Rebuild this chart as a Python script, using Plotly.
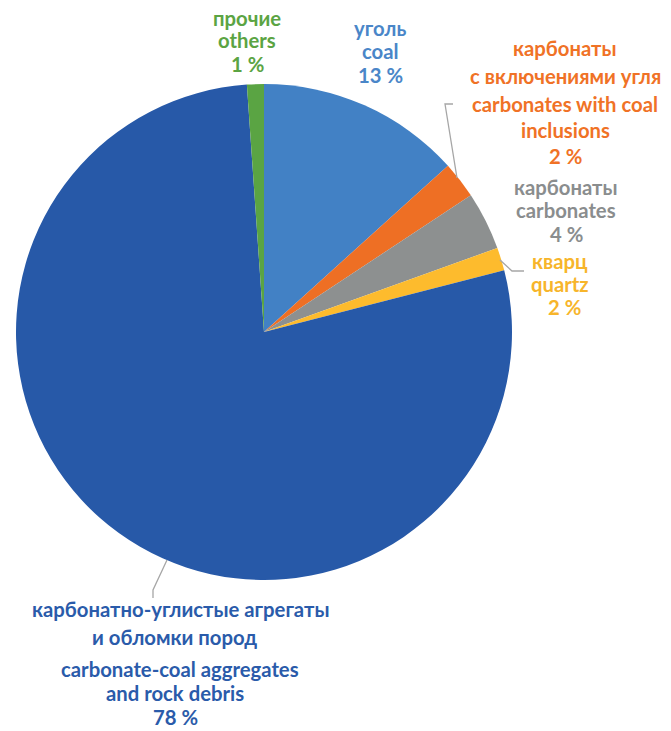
import plotly.graph_objects as go

W, H = 671, 731

# Data (clockwise from 12 o'clock)
categories = ["уголь / coal",
              "карбонаты с включениями угля / carbonates with coal inclusions",
              "карбонаты / carbonates",
              "кварц / quartz",
              "карбонатно-углистые агрегаты и обломки пород / carbonate-coal aggregates and rock debris",
              "прочие / others"]
values = [13.3, 2.4, 3.8, 1.5, 77.9, 1.1]
pct_labels = ["13 %", "2 %", "4 %", "2 %", "78 %", "1 %"]
slice_colors = ["#4281C5", "#EE6F24", "#8D9090", "#FDBB2D", "#2759A8", "#5AA443"]
text_colors = ["#4A86C8", "#F07226", "#8A8D8E", "#F7B52B", "#2A5BAA", "#5BA443"]

label_lines = [
    ["уголь", "coal"],
    ["карбонаты", "с включениями угля", "carbonates with coal", "inclusions"],
    ["карбонаты", "carbonates"],
    ["кварц", "quartz"],
    ["карбонатно-углистые агрегаты", "и обломки пород", "carbonate-coal aggregates", "and rock debris"],
    ["прочие", "others"],
]
# label placement (pixels): center x, y of each line
label_pos = [
    (380, [28, 51, 75]),
    (565, [48, 76, 104, 130, 156]),
    (566, [187, 210, 234]),
    (560, [261, 284, 307]),
    (180, [609, 637, 669, 693, 717]),
    (247, [18, 40, 64]),
]
label_x_override = {(4, 1): 174, (4, 3): 175, (4, 4): 175, (3, 2): 564}

cx, cy, r = 264, 332, 248

fig = go.Figure(go.Pie(
    labels=categories, values=values, sort=False, direction="clockwise",
    rotation=0, textinfo="none", hoverinfo="label+percent",
    marker=dict(colors=slice_colors, line=dict(width=0)),
    domain=dict(x=[(cx - r) / W, (cx + r) / W], y=[(H - cy - r) / H, (H - cy + r) / H]),
    showlegend=False,
))

annotations = []
for i, lines in enumerate(label_lines):
    x0, ys = label_pos[i]
    all_lines = lines + [pct_labels[i]]
    for j, (txt, y) in enumerate(zip(all_lines, ys)):
        x = label_x_override.get((i, j), x0)
        annotations.append(dict(
            x=x / W, y=1 - y / H, xref="paper", yref="paper", text="<b>%s</b>" % txt,
            showarrow=False, xanchor="center", yanchor="middle",
            font=dict(family="Lato", size=20.3, color=text_colors[i]),
        ))

def pth(points):
    s = "M %f %f" % (points[0][0] / W, 1 - points[0][1] / H)
    for p in points[1:]:
        s += " L %f %f" % (p[0] / W, 1 - p[1] / H)
    return s

leaders = [
    [(453, 104), (445, 104), (457, 178)],
    [(500, 260), (512, 271), (524, 271)],
    [(167, 560), (153, 590), (153, 598)],
]
shapes = [dict(type="path", xref="paper", yref="paper", path=pth(p),
               line=dict(color="#A6A6A6", width=1.3)) for p in leaders]

fig.update_layout(width=W, height=H, margin=dict(l=0, r=0, t=0, b=0),
                  paper_bgcolor="white", plot_bgcolor="white",
                  annotations=annotations, shapes=shapes)
fig.write_html("out.html")
